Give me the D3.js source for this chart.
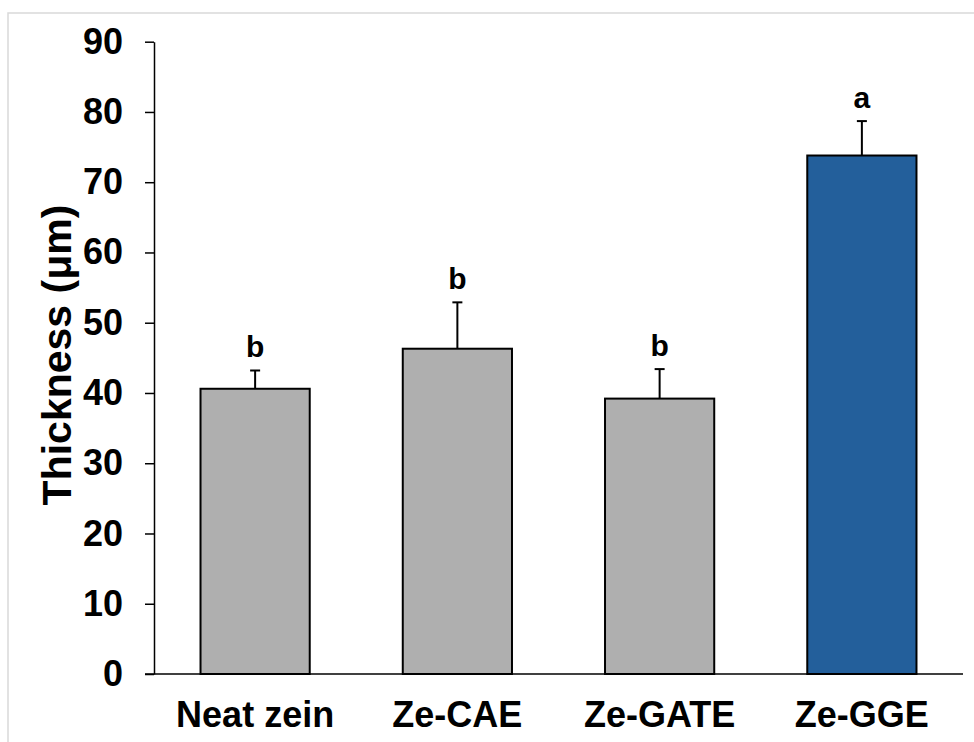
<!DOCTYPE html>
<html>
<head>
<meta charset="utf-8">
<script src="https://cdn.jsdelivr.net/npm/d3@7"></script>
<style>
  html, body { margin: 0; padding: 0; background: #fff; }
  svg { display: block; font-family: "Liberation Sans", Arial, sans-serif; font-weight: bold; }
</style>
</head>
<body>
<svg id="chart" width="974" height="742"></svg>
<script>
// Film thickness per formulation (mean ± SD) with significance letters
const categories = ["Neat zein", "Ze-CAE", "Ze-GATE", "Ze-GGE"];
const means = [40.6, 46.3, 39.2, 73.8];
const errors = [2.6, 6.6, 4.2, 4.9];
const letters = ["b", "b", "b", "a"];
const yTicks = [0, 10, 20, 30, 40, 50, 60, 70, 80, 90];
const barColors = ["#afafaf", "#afafaf", "#afafaf", "#235f9b"];

const svg = d3.select("#chart");

// light outer frame
svg.append("rect")
  .attr("x", 8).attr("y", 13)
  .attr("width", 1000).attr("height", 800)
  .attr("fill", "none").attr("stroke", "#d9d9d9").attr("stroke-width", 1.5);

const x0 = 154, x1 = 963, yTop = 41.7, yBottom = 674;

const x = d3.scaleBand().domain(categories).range([x0, x1])
  .paddingInner(0.46).paddingOuter(0.23);
const y = d3.scaleLinear().domain([0, 90]).range([yBottom, yTop]);

// y axis
const yAxis = svg.append("g")
  .attr("transform", `translate(${x0},0)`)
  .call(d3.axisLeft(y).tickValues(yTicks).tickSize(9).tickPadding(22).tickSizeOuter(0));
yAxis.select(".domain").attr("stroke", "#000").attr("stroke-width", 1.5);
yAxis.selectAll(".tick line").attr("stroke", "#000").attr("stroke-width", 1.5);
yAxis.selectAll(".tick text")
  .attr("font-size", 36).attr("font-weight", "bold").attr("fill", "#000")
  .attr("font-family", "Liberation Sans, Arial, sans-serif");

// bars
svg.append("g").selectAll("rect")
  .data(categories)
  .join("rect")
  .attr("x", d => x(d))
  .attr("y", (d, i) => y(means[i]))
  .attr("width", x.bandwidth())
  .attr("height", (d, i) => y(0) - y(means[i]))
  .attr("fill", (d, i) => barColors[i])
  .attr("stroke", "#000")
  .attr("stroke-width", 2);

// error bars (upper half only)
const eb = svg.append("g").attr("stroke", "#000").attr("stroke-width", 2);
categories.forEach((c, i) => {
  const cx = x(c) + x.bandwidth() / 2;
  eb.append("line")
    .attr("x1", cx).attr("x2", cx)
    .attr("y1", y(means[i])).attr("y2", y(means[i] + errors[i]));
  eb.append("line")
    .attr("x1", cx - 5).attr("x2", cx + 5)
    .attr("y1", y(means[i] + errors[i])).attr("y2", y(means[i] + errors[i]));
});

// x axis baseline
svg.append("line")
  .attr("x1", x0 - 9).attr("x2", x1)
  .attr("y1", yBottom).attr("y2", yBottom)
  .attr("stroke", "#000").attr("stroke-width", 1.5);

// significance letters
svg.append("g").selectAll("text")
  .data(categories)
  .join("text")
  .attr("x", d => x(d) + x.bandwidth() / 2)
  .attr("y", (d, i) => y(means[i] + errors[i]) - 13)
  .attr("text-anchor", "middle")
  .attr("font-size", 30)
  .attr("fill", "#000")
  .text((d, i) => letters[i]);

// category labels
svg.append("g").selectAll("text")
  .data(categories)
  .join("text")
  .attr("x", d => x(d) + x.bandwidth() / 2)
  .attr("y", 727)
  .attr("text-anchor", "middle")
  .attr("font-size", 36)
  .attr("fill", "#000")
  .text(d => d);

// y axis title
svg.append("text")
  .attr("transform", "translate(71,355) rotate(-90)")
  .attr("text-anchor", "middle")
  .attr("font-size", 41)
  .attr("fill", "#000")
  .text("Thickness (μm)");
</script>
</body>
</html>
